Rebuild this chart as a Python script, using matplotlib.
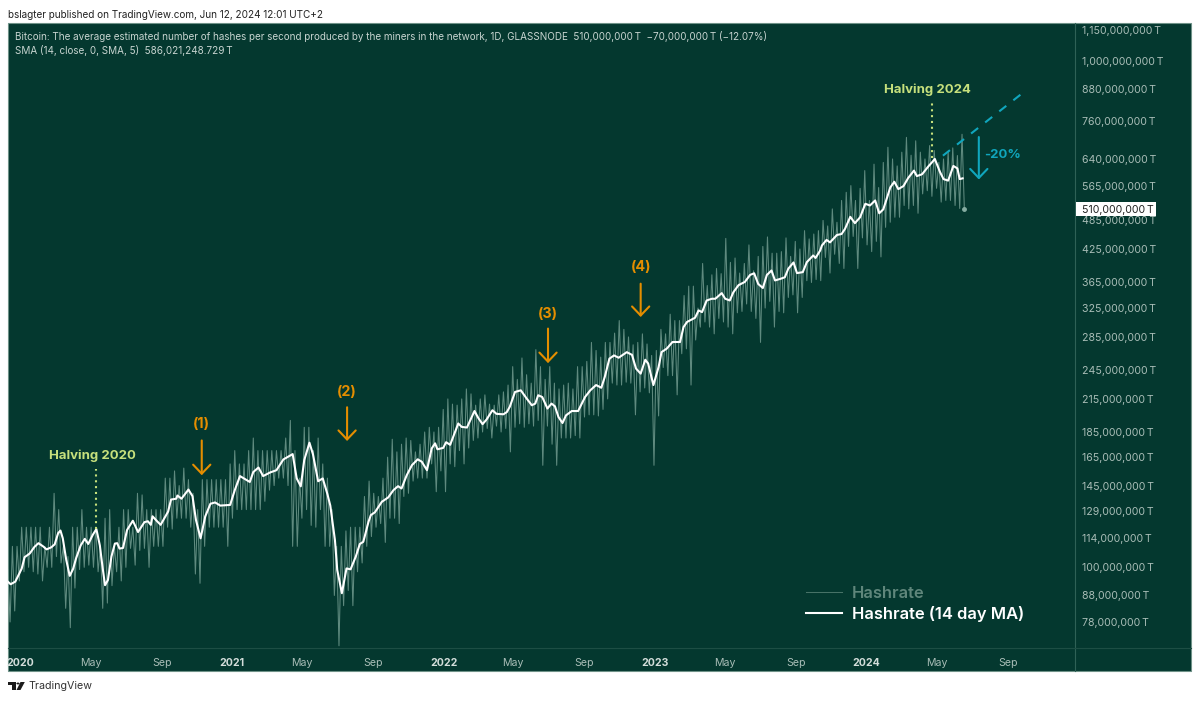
import matplotlib
matplotlib.use('Agg')
import matplotlib.pyplot as plt
from matplotlib.patches import Rectangle, Polygon, Circle

# Values in millions of T, x in days since 2020-01-01
ma_days = [-22,-17,-9,-2,2,7,16,24,31,39,45,53,59,65,69,73,79,85,91,96,104,111,117,125,131,137,142,146,151,157,163,167,171,177,184,194,203,214,220,225,228,235,242,249,255,260,269,
           271,278,290,297,303,311,319,328,336,345,362,370,379,396,402,411,419,431,442,454,470,477,484,490,499,505,514,522,530,
           535,539,543,547,555,563,570,579,586,592,601,605,612,624,635,644,652,658,667,676,686,693,702,710,716,720,730,735,742,756,762,771,784,791,798,805,815,822,
           834,840,845,854,864,874,883,889,894,901,910,917,923,929,936,942,952,963,975,984,994,1003,1009,1017,1025,1033,1047,1056,1063,1071,1079,1084,1093,1102,
           1107,1116,1126,1139,1145,1151,1165,1171,1177,1185,1194,1200,1211,1217,1225,1231,1240,1251,1260,1267,1274,1282,1289,1297,1303,1312,1320,1326,1335,1341,1351,1358,1369,1373,1381,
           1384,1392,1398,1410,1418,1424,1433,1441,1450,1459,1467,1476,1483,1490,1495,1502,1509,1516,1525,1533,1543,1548,1557,1568,1574,1579,1588,1594,1602,1611,1618,1622,1627]
ma_vals = [93.7,92.6,93.7,97.3,99.4,104.7,106.5,109.7,111.6,110,108.5,109.5,111,116.8,118.2,114.1,103.4,96.2,99.4,104.2,110.5,113.8,111.2,116,119,110.5,99.4,92.2,94.4,105,111.4,111.6,108.9,109.2,118.5,123.6,117.4,122.8,123.3,121.3,126.1,123.6,121.3,125.3,128.9,136.1,136.6,
           138.6,136.6,142.4,138.2,124,114.1,126,133.5,134.3,132.4,132.8,142,151.4,147.4,154.2,157.4,151.4,153.9,155.5,163.3,167.3,149.8,144.5,162.8,176.2,167.3,147.9,149.8,139.5,
           132.4,122.4,113.2,98.8,88.9,99.5,99.1,105,111.2,112.3,123,126.8,128.4,134.7,137.4,142,144.6,143.1,152,159.1,163.4,161.6,155.5,171.6,175.7,171,172.1,176.6,174.5,192.3,189.3,188.8,203.5,196.8,191.7,195.9,204.2,200.9,
           200.5,202.6,207.5,221.9,223.6,215.5,208.9,210.5,218.6,216.9,205.8,210.5,207.9,198.1,192.7,199.5,203.5,203.5,216.9,223.6,229,226.2,237.5,258.2,262,259.3,265.9,262.7,246.8,241.2,256.9,252.5,229,248.5,
           266,270.2,278.5,278.5,298,305,311,321.5,319,336.4,339,339,347.8,339,336.4,349,360.6,366,377.8,380.6,362.6,356,377.8,385.5,368.4,371,373.8,388.7,399.8,380.9,382.6,400.4,412.7,408,422.1,
           431.8,443,438,453,455,466,492,478,491,522,518,530,500,509,530,562,577,558,566,587,607,592,597,619,630,640,603,584,580,620,613,584,586]

# Daily series read as alternating spike tops and bottoms, one pair per 8 days
raw_start_day = -22
raw_high = [99,110,110,120,120,120,120,120,110,120,140,130,110,105,120,120,130,120,120,120,110,125,130,110,120,130,130,120,140,139,130,130,130,130,150,150,155,145,
            157,149,140,130,149,149,149,149,149,149,160,170,160,160,170,180,170,170,170,170,170,170,180,195,170,150,189,189,170,180,160,150,130,110,
            110,118,120,120,120,138,148,140,138,150,165,179,169,175,180,178,169,175,185,189,185,189,205,215,210,209,215,225,220,209,215,219,210,209,
            219,222,229,249,235,259,240,231,269,249,235,249,231,225,229,231,225,249,249,255,278,268,260,278,278,290,307,295,285,275,278,289,276,262,268,
            295,289,316,307,307,344,359,359,325,398,360,378,389,380,446,400,408,381,398,433,385,411,430,449,417,417,420,447,411,440,425,462,445,455,462,
            484,472,510,480,530,550,567,530,560,607,530,625,562,630,675,640,620,660,706,651,695,660,640,680,665,630,640,660,673,650,716]
raw_low = [78,82,94,98,100,98,97,94,100,100,105,102,83,76,91,99,100,101,100,98,83,85,92,98,94,100,109,101,108,109,100,110,110,110,120,119,125,125,
           125,120,97,93,110,120,120,120,120,110,125,130,130,130,130,130,130,135,142,145,150,150,145,110,110,125,130,121,120,130,110,110,88,70,
           84,90,84,98,102,110,115,120,122,112,125,125,122,138,140,148,150,150,150,160,141,155,141,160,158,170,160,172,178,180,185,188,180,190,
           185,188,169,189,192,189,192,190,195,159,190,175,159,180,180,180,182,180,198,200,200,199,205,215,231,229,229,232,231,200,222,226,221,159,199,
           248,239,239,219,264,270,229,281,298,305,298,289,310,305,298,289,318,320,331,320,310,278,325,335,298,320,318,341,345,318,341,368,365,370,368,
           409,381,415,398,389,430,450,389,447,433,420,440,410,469,480,491,491,518,510,518,500,546,554,540,560,526,530,530,518,511,510]

# right axis and time axis
y_ticks = [1150,1000,880,760,640,565,485,425,365,325,285,245,215,185,165,145,129,114,100,88,78]
last_value = 510
x_tick_days = [0,121,244,366,486,609,731,851,974,1096,1216,1339,1461,1582,1705]
x_tick_labels = ['2020','May','Sep','2021','May','Sep','2022','May','Sep','2023','May','Sep','2024','May','Sep']
x_tick_years = ['2020','2021','2022','2023','2024']

# annotations, same units as the data
arrow_days = [313,564,911,1071]
arrow_tops = [178,207,296,363]
arrow_tips = [152,177.6,253,312]
arrow_labels = ['(1)','(2)','(3)','(4)']
arrow_label_vals = [191.7,221.6,316,391]
halving_days = [131,1574]
halving_tops = [156,825]
halving_bottoms = [119,643]
halving_labels = ['Halving 2020','Halving 2024']
halving_label_days = [124,1566]
halving_label_vals = [166,875]
trend_days = [1593,1728]
trend_vals = [649.6,859]
drop_day = 1655
drop_vals = [707,583]

BG = '#04382f'
TICK = '#a9bdb7'
ORANGE = '#e58e00'
CYAN = '#10a6bd'
LIME = '#c6e07c'
W, H = 1200, 701
plt.rcParams['font.family'] = ['Inter', 'DejaVu Sans']

fig = plt.figure(figsize=(12, 7.01), dpi=100, facecolor='white')
ax = fig.add_axes([8/W, 1-648/H, 1067/W, 625.5/H], facecolor='none')

def fx(x): return x/W
def fy(y): return 1-y/H

# dark panel behind everything
fig.patches.append(Rectangle((fx(8), fy(671)), 1183/W, 648.5/H, transform=fig.transFigure,
                             facecolor=BG, edgecolor='#6f9288', lw=0.8, zorder=-1))

raw_days = []
raw_vals = []
for i in range(len(raw_high)):
    raw_days += [raw_start_day+8*i, raw_start_day+8*i+4]
    raw_vals += [raw_high[i], raw_low[i]]

ax.plot(raw_days, raw_vals, color='#7fa79b', lw=0.75, alpha=0.75, label='Hashrate', zorder=2)
ax.plot(raw_days[-1:], raw_vals[-1:], 'o', color='#86ada2', ms=2.5, zorder=2)
ax.plot(ma_days, ma_vals, color='white', lw=1.5, label='Hashrate (14 day MA)', zorder=3, solid_joinstyle='round')

ax.set_yscale('log')
ax.set_ylim(69.3, 1190)
ax.set_xlim(-21.6, 1821.1)
ax.yaxis.tick_right()
ax.set_yticks(y_ticks)
ax.set_yticklabels([f'{v*1000000:,}\u2009T' for v in y_ticks], fontsize=7.6, color=TICK)
ax.minorticks_off()
ax.set_xticks(x_tick_days)
ax.set_xticklabels(x_tick_labels, fontsize=7.6, color=TICK)
for t in ax.get_xticklabels():
    if t.get_text() in x_tick_years:
        t.set_fontweight('bold')
        t.set_color('#d3ddda')
ax.tick_params(axis='both', length=0)
ax.tick_params(axis='x', pad=7.5)
ax.tick_params(axis='y', pad=4.8)
for s in ['top', 'left']:
    ax.spines[s].set_visible(False)
ax.spines['right'].set_color('#2f6156')
ax.spines['bottom'].set_color('#1d4e44')

# separators carried on into the axis strips
fig.add_artist(plt.Line2D([fx(1075), fx(1075)], [fy(648), fy(671)], color='#2f6156', lw=0.8))
fig.add_artist(plt.Line2D([fx(1075), fx(1191)], [fy(648), fy(648)], color='#1d4e44', lw=0.8))

for d, top, tip, lab, lv in zip(arrow_days, arrow_tops, arrow_tips, arrow_labels, arrow_label_vals):
    ax.annotate('', xy=(d, tip), xytext=(d, top),
                arrowprops=dict(arrowstyle='->,head_length=0.65,head_width=0.62', color=ORANGE, lw=1.5,
                                shrinkA=0, shrinkB=0, mutation_scale=10))
    ax.text(d, lv, lab, color=ORANGE, fontsize=10.3, fontweight='bold', ha='center', va='center')

for d, top, bot, lab, ld, lv in zip(halving_days, halving_tops, halving_bottoms, halving_labels, halving_label_days, halving_label_vals):
    ax.plot([d, d], [bot, top], color=LIME, lw=1.5, ls=(0, (1, 1.8)), zorder=4)
    ax.text(ld, lv, lab, color=LIME, fontsize=9.5, fontweight='bold', ha='center', va='center')

ax.plot(trend_days, trend_vals, color=CYAN, lw=1.5, ls=(0, (4.3, 4.3)), zorder=4)
ax.annotate('', xy=(drop_day, drop_vals[1]), xytext=(drop_day, drop_vals[0]),
            arrowprops=dict(arrowstyle='->,head_length=0.65,head_width=0.62', color=CYAN, lw=1.5,
                            shrinkA=0, shrinkB=0, mutation_scale=10))
ax.text(drop_day+9, 651, '-20%', color=CYAN, fontsize=9.5, fontweight='bold', ha='left', va='center')

leg = ax.legend(loc='lower left', bbox_to_anchor=(0.7405, 0.029), frameon=False, handlelength=2.17, handletextpad=0.6,
                labelspacing=0.28, borderpad=0, prop={'size': 11.9, 'weight': 'semibold'})
leg.get_texts()[0].set_color('#5f867b')
leg.get_lines()[0].set_color('#5f867b')
leg.get_texts()[1].set_color('white')

# badge for the last value
fig.patches.append(Rectangle((fx(1075.5), fy(216.5)), 80.5/W, 14/H, transform=fig.transFigure,
                             facecolor='white', edgecolor='none', zorder=5))
fig.text(fx(1082), fy(209.5), f'{last_value*1000000:,}\u2009T', fontsize=7.6, color='#222222', va='center', ha='left', zorder=6)

# header lines
fig.text(fx(8), fy(15), 'bslagter published on TradingView.com, Jun 12, 2024 12:01 UTC+2', fontsize=7.17, color='#222222', va='center')
fig.text(fx(15), fy(37), 'Bitcoin: The average estimated number of hashes per second produced by the miners in the network, 1D, GLASSNODE  510,000,000\u2009T  \u221270,000,000\u2009T (\u221212.07%)',
         fontsize=7.13, color='#c7d4d0', va='center')
fig.text(fx(15), fy(51), 'SMA (14, close, 0, SMA, 5)  586,021,248.729\u2009T', fontsize=7.13, color='#c7d4d0', va='center')

# TradingView logo and name
logo = '#1b1b1b'
def to_fig(pts): return [(fx(a), fy(b)) for a, b in pts]
fig.patches.append(Polygon(to_fig([(8,682),(16,682),(16,690),(12.3,690),(12.3,685.2),(8,685.2)]), transform=fig.transFigure, facecolor=logo, edgecolor='none'))
fig.patches.append(Circle((fx(18), fy(683.5)), 1.6/W, transform=fig.transFigure, facecolor=logo, edgecolor='none'))
fig.patches.append(Polygon(to_fig([(20.5,682),(24.8,682),(20.5,690),(16.5,690)]), transform=fig.transFigure, facecolor=logo, edgecolor='none'))
fig.text(fx(28), fy(686), 'TradingView', fontsize=7.7, color='#333333', va='center')

plt.savefig('out.png', dpi=100)
